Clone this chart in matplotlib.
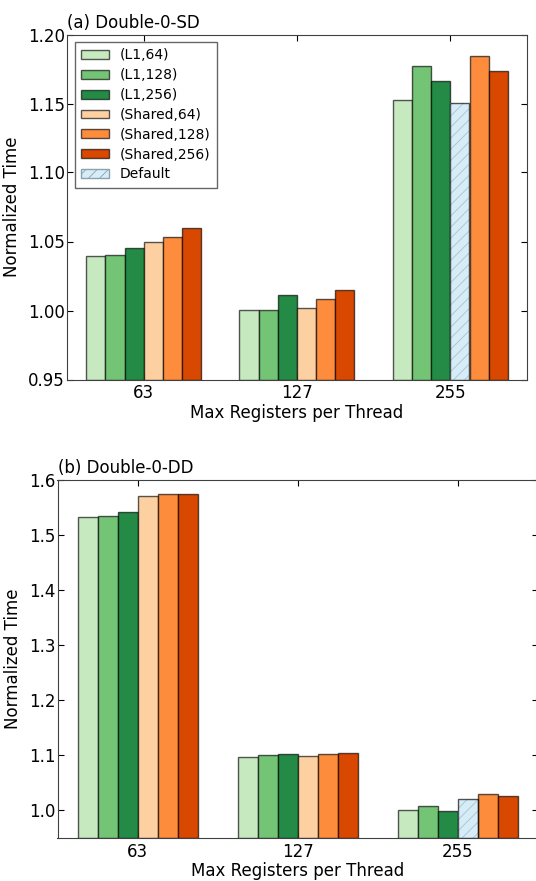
import matplotlib
matplotlib.use("Agg")
import matplotlib.pyplot as plt
import numpy as np
from matplotlib.patches import Patch

plt.rcParams['font.family'] = ['DejaVu Sans']
plt.rcParams['hatch.linewidth'] = 0.6

groups = ["63", "127", "255"]
series = ["(L1,64)", "(L1,128)", "(L1,256)", "(Shared,64)", "(Shared,128)", "(Shared,256)"]
colors = ["#c7e9c0", "#74c476", "#238b45", "#fdd0a2", "#fd8d3c", "#d94801"]
default_color = "#d6ecf6"

# (a) Double-0-SD ; slot 3 of group 255 holds the Default config
sd_values = [
    [1.0396, 1.0405, 1.0451, 1.0493, 1.0532, 1.0597],
    [1.0000, 1.0000, 1.0114, 1.0019, 1.0083, 1.0150],
    [1.1527, 1.1773, 1.1664, 1.1507, 1.1843, 1.1737],
]
# (b) Double-0-DD
dd_values = [
    [1.5325, 1.5355, 1.5410, 1.5717, 1.5753, 1.5747],
    [1.0976, 1.1012, 1.1018, 1.0988, 1.1024, 1.1036],
    [1.0012, 1.0072, 0.9994, 1.0205, 1.0301, 1.0265],
]
default_slot = (2, 3)

W, H = 536, 881
fig = plt.figure(figsize=(W / 100, H / 100), dpi=100)


def panel(rect, values, ylim, yticks, fmt, title, legend):
    l, t, r, b = rect
    ax = fig.add_axes([l / W, 1 - b / H, (r - l) / W, (b - t) / H])
    width = 0.125
    x = np.arange(len(groups))
    edge = (0, 0, 0, 0.65)
    for i in range(len(series)):
        for g in range(len(groups)):
            xpos = x[g] + (i - 2.5) * width
            v = values[g][i]
            if (g, i) == default_slot:
                ax.bar(xpos, v - ylim[0], width, bottom=ylim[0], color=default_color,
                       hatch="///", edgecolor="#a9c3cf", linewidth=0, zorder=2)
                ax.bar(xpos, v - ylim[0], width, bottom=ylim[0], fill=False,
                       edgecolor=edge, linewidth=1, zorder=3)
            else:
                ax.bar(xpos, v - ylim[0], width, bottom=ylim[0], color=colors[i],
                       edgecolor=edge, linewidth=1, zorder=2)
    ax.set_xlim(-0.5, 2.5)
    ax.set_ylim(*ylim)
    ax.set_xticks(x)
    ax.set_xticklabels(groups, fontsize=12)
    ax.set_yticks(yticks)
    ax.set_yticklabels([fmt.format(v) for v in yticks], fontsize=12)
    ax.tick_params(direction="in", top=True, right=True, length=4, width=0.8)
    ax.tick_params(axis="y", pad=1.5)
    ax.tick_params(axis="x", pad=3.5)
    ax.set_xlabel("Max Registers per Thread", fontsize=12, labelpad=1)
    ax.set_ylabel("Normalized Time", fontsize=12, labelpad=5)
    for s in ax.spines.values():
        s.set_color("#404040")
    ax.text(0.0, 1.008, title, transform=ax.transAxes, fontsize=12, ha="left", va="bottom")
    if legend:
        handles = [Patch(facecolor=c, edgecolor=edge, label=s) for c, s in zip(colors, series)]
        handles.append(Patch(facecolor=default_color, edgecolor="#8aa3ad", hatch="///", label="Default"))
        lg = ax.legend(handles=handles, loc="upper left", fontsize=10, frameon=True,
                       fancybox=False, borderaxespad=0.55, handlelength=2.0,
                       handleheight=0.6, labelspacing=0.42, borderpad=0.45,
                       handletextpad=0.8)
        lg.get_frame().set_edgecolor("#404040")
        lg.get_frame().set_linewidth(1)
    return ax


panel((67, 34.5, 527, 379.5), sd_values, (0.95, 1.20),
      [0.95, 1.00, 1.05, 1.10, 1.15, 1.20], "{:.2f}", "(a) Double-0-SD", True)
panel((57.5, 480, 538, 838), dd_values, (0.95, 1.60),
      [1.0, 1.1, 1.2, 1.3, 1.4, 1.5, 1.6], "{:.1f}", "(b) Double-0-DD", False)

fig.savefig("out.png", dpi=100)
